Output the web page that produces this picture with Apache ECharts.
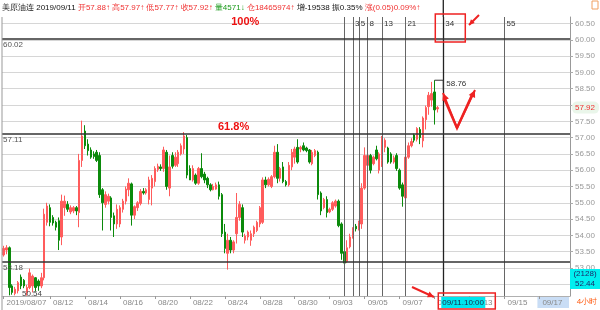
<!DOCTYPE html>
<html><head><meta charset="utf-8">
<script src="https://cdn.jsdelivr.net/npm/echarts@6/dist/echarts.min.js"></script>
<style>html,body{margin:0;padding:0;background:#fff;overflow:hidden}#c{width:600px;height:310px}</style>
</head><body><div id="c"></div><script>
// ---------------- data ----------------
const slotCount = 195;                 // 4-hour slots shown (incl. empty future area)
// [open, close, low, high] per 4-hour bar
const candles = [
[53.40,53.60,53.35,53.68],[53.55,53.62,53.42,53.70],[53.62,52.40,52.16,53.66],[52.45,52.25,52.18,52.50],[52.22,52.35,52.16,52.42],
[52.30,52.55,52.22,52.60],[52.72,52.45,52.35,52.80],[52.62,52.45,52.38,52.66],[52.25,52.40,52.15,52.48],[52.40,52.85,52.35,52.98],
[52.45,52.75,52.25,52.80],[52.70,52.40,52.28,52.72],[52.60,52.45,52.30,52.65],[52.45,52.70,52.38,52.85],[52.70,54.65,52.62,54.82],
[54.40,54.90,54.30,55.00],[54.85,54.40,54.28,54.95],[54.55,54.38,54.30,54.62],[54.40,54.25,54.15,54.45],[54.45,53.85,53.55,54.55],
[53.95,55.05,53.70,55.25],[54.85,55.05,54.60,55.22],[54.95,54.80,54.72,55.05],[54.72,54.85,54.65,54.92],[54.75,54.85,54.68,54.90],
[54.85,54.75,54.62,54.90],[54.70,56.30,54.25,56.50],[56.30,57.05,56.10,57.52],[57.20,56.75,56.65,57.38],[56.80,56.60,56.45,56.95],
[56.62,56.40,56.35,56.70],[56.50,56.42,56.35,56.58],[56.55,56.30,56.25,56.62],[56.45,55.25,55.15,56.55],[55.40,55.00,54.15,55.45],
[54.95,55.25,54.85,55.35],[55.05,55.20,54.95,55.28],[55.15,54.55,54.15,55.20],[54.60,54.35,53.95,54.70],[54.35,54.80,54.20,54.95],
[54.35,54.85,54.25,54.92],[54.80,55.05,54.70,55.12],[55.05,55.42,54.95,55.50],[55.40,55.60,55.20,55.75],[55.58,54.62,54.30,55.62],
[54.62,54.88,54.50,54.92],[54.85,55.00,54.75,55.05],[54.98,55.35,54.92,55.42],[55.35,55.30,55.25,55.45],[55.30,55.40,55.25,55.45],
[55.10,55.70,54.95,55.80],[55.45,55.75,54.92,55.85],[55.65,56.05,55.50,56.12],[56.02,56.12,55.95,56.20],[56.10,56.05,55.98,56.18],
[56.05,56.62,55.95,56.72],[56.55,55.50,55.40,56.62],[55.45,56.10,55.20,56.45],[56.45,56.12,56.05,56.55],[56.15,56.40,56.10,56.55],
[56.20,56.55,56.10,56.62],[56.50,56.75,56.45,56.82],[56.65,57.05,56.50,57.17],[57.00,55.85,55.75,57.08],[56.05,55.70,55.70,56.15],
[55.70,56.05,55.65,56.15],[55.85,55.60,55.55,55.90],[55.60,56.05,55.55,56.10],[56.05,55.80,55.75,56.52],[55.88,55.70,55.60,55.95],
[55.75,55.55,55.45,55.80],[55.55,55.40,55.35,55.60],[55.40,55.50,55.38,55.58],[55.42,55.55,55.40,55.62],[55.55,55.20,55.10,55.65],
[55.25,54.05,53.95,55.30],[54.10,53.60,53.45,54.35],[53.45,53.85,52.95,54.05],[53.85,53.55,53.45,53.95],[53.55,53.80,53.45,53.85],
[54.05,54.55,53.75,55.30],[54.55,54.95,54.45,55.05],[54.85,54.10,53.95,54.95],[53.85,53.98,53.75,54.05],[53.95,54.10,53.85,54.15],
[53.85,54.05,53.68,54.15],[54.05,54.25,53.95,54.30],[54.15,54.40,54.10,54.45],[54.35,54.85,54.25,54.90],[54.40,55.70,54.35,55.78],
[55.70,55.55,55.45,55.80],[55.55,55.72,55.50,55.78],[55.50,55.80,55.45,55.85],[55.80,56.55,55.75,56.75],[56.55,55.75,55.60,56.80],
[55.75,56.05,55.65,56.10],[56.10,55.65,55.60,56.25],[55.65,55.55,55.50,55.70],[55.55,56.15,55.50,56.25],[56.10,56.55,56.00,56.65],
[56.40,56.65,56.20,56.72],[56.70,56.25,56.20,56.95],[56.65,56.70,56.55,56.75],[56.75,56.62,56.58,56.85],[56.68,56.60,56.55,56.72],
[56.62,56.25,56.20,56.65],[56.20,56.55,56.15,56.62],[56.45,56.60,56.40,56.65],[56.55,55.25,55.10,56.60],[55.30,54.75,54.62,55.35],
[54.85,55.10,54.80,55.15],[55.10,54.70,54.55,55.20],[54.72,54.80,54.68,54.85],[54.80,55.00,54.75,55.05],[54.90,55.05,54.85,55.10],
[55.05,54.30,54.25,55.10],[54.35,53.45,53.25,54.40],[53.50,53.15,53.00,53.75],[53.20,53.62,53.15,53.85],[53.65,53.95,53.60,54.05],
[53.95,54.15,53.90,54.25],[54.28,54.20,54.12,54.35],[54.20,54.40,54.15,54.45],[54.35,55.45,54.20,55.60],[55.45,56.45,55.40,56.70],
[56.15,56.45,55.95,56.55],[56.45,56.00,55.90,56.50],[56.20,56.40,56.15,56.45],[56.62,56.35,56.30,56.75],[56.00,56.50,55.90,56.55],
[56.30,56.80,56.10,57.05],[56.70,56.92,56.55,56.98],[56.68,56.25,56.20,56.72],[56.50,56.25,56.20,56.55],[56.25,56.38,56.20,56.45],
[56.45,56.05,55.98,56.52],[56.00,55.45,55.40,56.05],[55.55,55.20,54.88,55.62],[55.15,56.40,55.05,56.55],[56.40,56.75,56.35,56.85],
[56.75,56.88,56.70,56.98],[57.08,56.92,56.85,57.12],[56.95,57.28,56.88,57.32],[57.25,57.00,56.80,57.32],[56.90,57.60,56.70,57.65],
[57.55,57.92,57.25,57.98],[57.95,58.30,57.70,58.40],[58.15,58.35,57.95,58.71],[58.40,57.85,57.40,58.76],[57.88,57.92,57.77,57.97]
];
const dateTickIndex = [0,16,28,40,52,64,76,88,100,112,124,136,148,160,172,184];
const dateTickText  = ['2019/08/07','08/12','08/14','08/16','08/20','08/22','08/24','08/28','08/30','09/03','09/05','09/07','09/11','09/13','09/15','09/17'];
const fibStartIndex = 117;
const fibSteps = [0,3,5,8,13,21,34,55];
const levelPrices = [60.02, 57.11, 53.18];
const levelPctText = ['100%', '61.8%'];
const highMark = {index: 148, price: 58.76};
const lowMarkText = '50.54';
const lastPrice = 57.92;
const cursorIndex = 151;
const cursorText = '09/11.10:00';
const headerParts = [
  ['k','美原油连 '],['k','2019/09/11 '],['r','开57.88↑ '],['r','高57.97↑ '],['r','低57.77↑ '],['r','收57.92↑ '],
  ['g','量4571↓ '],['r','仓18465974↑ '],['k','增-19538 '],['k','振0.35% '],['r','涨(0.05)0.09%↑']
];
const infoBox = ['(2128)', '52.44'];
const periodText = '4小时';
// ---------------- build ----------------
const cats = Array.from({length: slotCount}, (_, i) => String(i));
const labelOf = {}; dateTickIndex.forEach((ix, k) => labelOf[ix] = dateTickText[k]);
const FONT = '"Liberation Sans", Arial, sans-serif';
const chart = echarts.init(document.getElementById('c'), null, {renderer: 'canvas'});
const RED = '#ff5c5c', GREEN = '#0b8a0b';
chart.setOption({
  animation: false,
  backgroundColor: '#fff',
  grid: {left: 2, right: 30, top: 17, bottom: 14},
  xAxis: {
    type: 'category', data: cats, boundaryGap: true, z: 10,
    axisLine: {show: true, lineStyle: {color: '#b0b0b0'}},
    axisTick: {show: true, alignWithLabel: true, length: 3, interval: (i) => labelOf[i] !== undefined, lineStyle: {color: '#999'}},
    axisLabel: {interval: (i) => labelOf[i] !== undefined, formatter: (v, i) => labelOf[i] || '', align: 'left',
      padding: [0, 0, 0, 3], margin: 3, color: '#888', fontSize: 8, fontFamily: FONT},
    splitLine: {show: false}
  },
  yAxis: [{
    type: 'value', position: 'right', min: 52.14, max: 60.70, splitNumber: 17,
    axisLine: {show: true, lineStyle: {color: '#999'}},
    axisTick: {show: true, length: 3, lineStyle: {color: '#aaa'}},
    axisLabel: {formatter: (v) => v.toFixed(2), color: '#999', fontSize: 8, fontFamily: FONT, margin: 5, showMinLabel: false, showMaxLabel: false},
    splitLine: {show: true, showMinLine: false, showMaxLine: false, lineStyle: {color: '#d6d6d6', width: 1}}
  }],
  series: [{
    type: 'candlestick', data: candles.map(c => [c[0], c[1], c[2], c[3]]), barWidth: 2,
    itemStyle: {color: RED, color0: GREEN, borderColor: RED, borderColor0: GREEN, borderWidth: 1},
    markLine: {
      silent: true, symbol: ['none', 'none'], animation: false,
      data: [
        ...fibSteps.map(s => ({xAxis: cats[fibStartIndex + s], lineStyle: {color: s === 34 ? '#222' : '#666', width: s === 34 ? 1.3 : 1, type: 'solid'}, label: {show: false}})),
        ...levelPrices.map(p => ({yAxis: p, lineStyle: {color: '#333', width: 1.5, type: 'solid'},
          label: {show: true, position: 'insideStartBottom', formatter: p.toFixed(2), color: '#555', fontSize: 8, fontFamily: FONT, distance: [1, 2]}}))
      ]
    }
  }]
});
// annotations anchored through the chart's own scales
const px = (i) => chart.convertToPixel({xAxisIndex: 0}, cats[i]);
const py = (v) => chart.convertToPixel({yAxisIndex: 0}, v);
const g = [];
const F8 = '8px ' + FONT;
// header
const rich = {k: {fill: '#111', font: F8}, r: {fill: '#f03030', font: F8}, g: {fill: '#1a9a1a', font: F8}};
g.push({type: 'text', x: 2, y: 4, z: 30, style: {text: headerParts.map(p => '{' + p[0] + '|' + p[1] + '}').join(''), rich: rich, font: F8}});
g.push({type: 'rect', z: 30, shape: {x: 592, y: 1, width: 6, height: 8}, style: {fill: 'none', stroke: '#f0a060', lineWidth: 1}});
// left border
g.push({type: 'line', z: 5, shape: {x1: 2, y1: 17, x2: 2, y2: 310}, style: {stroke: '#999', lineWidth: 1}});
// low mark text
g.push({type: 'text', z: 30, x: 22, y: 294, style: {text: lowMarkText, fill: '#444', font: F8, verticalAlign: 'middle'}});
// fib step labels
fibSteps.forEach(s => { if (s === 0) return; g.push({type: 'text', z: 30, x: px(fibStartIndex + s) + 2, y: 20, style: {text: String(s), fill: '#333', font: F8}}); });
const xc = px(cursorIndex);
g.push({type: 'line', z: 30, shape: {x1: xc, y1: 0, x2: xc, y2: 17}, style: {stroke: '#222', lineWidth: 1.3}});
// red box around 34 and arrow
g.push({type: 'rect', z: 31, shape: {x: xc - 8, y: 14, width: 30, height: 28}, style: {fill: 'none', stroke: '#ee2222', lineWidth: 1.5}});
function arrow(x1, y1, x2, y2, head) {
  const a = Math.atan2(y2 - y1, x2 - x1), h = head || 6;
  g.push({type: 'line', z: 31, shape: {x1, y1, x2, y2}, style: {stroke: '#ee2222', lineWidth: 2}});
  g.push({type: 'polygon', z: 31, shape: {points: [[x2, y2], [x2 - h * Math.cos(a - 0.45), y2 - h * Math.sin(a - 0.45)], [x2 - h * Math.cos(a + 0.45), y2 - h * Math.sin(a + 0.45)]]}, style: {fill: '#ee2222'}});
}
arrow(479, 15, 469, 25, 6);
// percent labels
g.push({type: 'text', z: 30, x: px(83), y: py(levelPrices[0]) - 17, style: {text: levelPctText[0], fill: '#ee1111', font: 'bold 11px ' + FONT, align: 'center', verticalAlign: 'middle'}});
g.push({type: 'text', z: 30, x: px(79), y: py(levelPrices[1]) - 7, style: {text: levelPctText[1], fill: '#ee1111', font: 'bold 11px ' + FONT, align: 'center', verticalAlign: 'middle'}});
// high mark 58.76
const hx = px(highMark.index), hy = py(highMark.price);
g.push({type: 'polyline', z: 30, shape: {points: [[hx, hy], [xc, hy], [xc, hy + 10]]}, style: {stroke: '#333', lineWidth: 1, fill: 'none'}});
g.push({type: 'text', z: 30, x: xc + 3, y: hy + 4, style: {text: highMark.price.toFixed(2), fill: '#333', font: F8, verticalAlign: 'middle'}});
// red V arrow
g.push({type: 'polyline', z: 31, shape: {points: [[444, 98], [457, 128], [472, 95]]}, style: {stroke: '#ee2222', lineWidth: 2.5, fill: 'none'}});
arrow(457, 128, 475, 90, 8);
arrow(457, 128, 443, 93, 8);
// last price on axis
const ly = py(lastPrice);
g.push({type: 'rect', z: 30, shape: {x: 572, y: ly - 6, width: 27, height: 12, r: 5}, style: {fill: '#eaf6ea'}});
g.push({type: 'text', z: 31, x: 575, y: ly, style: {text: lastPrice.toFixed(2), fill: '#f03030', font: F8, verticalAlign: 'middle'}});
// info box bottom right
g.push({type: 'rect', z: 30, shape: {x: 570, y: 269, width: 30, height: 20}, style: {fill: '#00f0f0'}});
g.push({type: 'text', z: 31, x: 585, y: 274, style: {text: infoBox[0], fill: '#1a2a6a', font: F8, align: 'center', verticalAlign: 'middle'}});
g.push({type: 'text', z: 31, x: 585, y: 284, style: {text: infoBox[1], fill: '#1a2a6a', font: F8, align: 'center', verticalAlign: 'middle'}});
g.push({type: 'text', z: 31, x: 587, y: 302, style: {text: periodText, fill: '#ff5a10', font: F8, align: 'center', verticalAlign: 'middle'}});
// scroll highlight behind last date label
g.push({type: 'rect', z: 1, shape: {x: px(184) - 2, y: 297, width: 569 - px(184) + 2, height: 11}, style: {fill: '#c9ddf5'}});
// cursor label on x axis
g.push({type: 'rect', z: 30, shape: {x: xc - 2, y: 297, width: 44, height: 11}, style: {fill: '#00e6f0'}});
g.push({type: 'text', z: 31, x: xc - 1, y: 302.5, style: {text: cursorText, fill: '#1a2a4a', font: F8, verticalAlign: 'middle'}});
g.push({type: 'rect', z: 31, shape: {x: xc - 5, y: 293, width: 57, height: 16}, style: {fill: 'none', stroke: '#ee2222', lineWidth: 1.5}});
arrow(412, 287, 434, 297, 7);
chart.setOption({graphic: g});
</script></body></html>
